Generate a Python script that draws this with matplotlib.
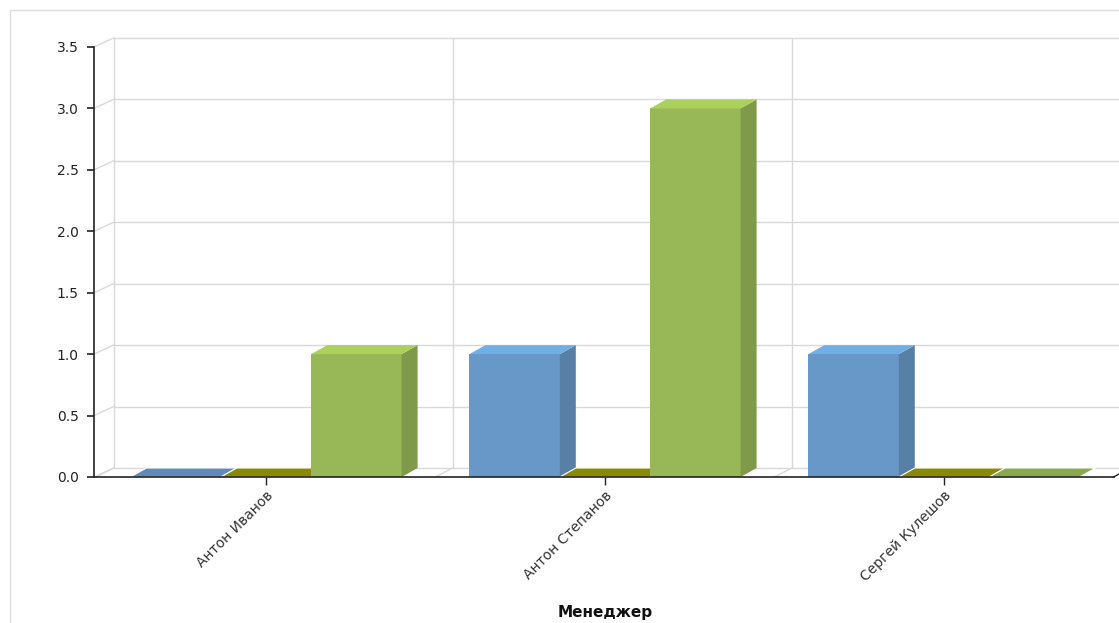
import matplotlib.pyplot as plt
from matplotlib.patches import Polygon, Rectangle

managers = ['Антон Иванов', 'Антон Степанов', 'Сергей Кулешов']
series_a = [0, 1, 1]
series_b = [0, 0, 0]
series_c = [1, 3, 0]
y_ticks = [0.0, 0.5, 1.0, 1.5, 2.0, 2.5, 3.0, 3.5]

W, H = 1119, 623
DX, DY = 17 / 339, 9 / 122.86      # back-wall offset (data units)
BDX, BDY = 16 / 339, 9 / 122.86    # bar depth
GRID = '#d9d9d9'

# front, top, side, flat-top colours per series
palette = [
    ('#6798c8', '#70aee6', '#587fa6', '#5f8bbb'),
    ('#8b8b00', '#8b8b00', '#707000', '#8a8a00'),
    ('#98b858', '#abd05c', '#7f9a48', '#89a94c'),
]


def draw_bar(ax, left, width, value, colors):
    front, top, side, flat = colors
    if value > 0:
        ax.add_patch(Rectangle((left, 0), width, value, facecolor=front,
                               edgecolor='none', clip_on=False, zorder=3))
        ax.add_patch(Polygon([(left + width, 0), (left + width + BDX, BDY),
                              (left + width + BDX, value + BDY), (left + width, value)],
                             facecolor=side, edgecolor='none', clip_on=False, zorder=3))
        ax.add_patch(Polygon([(left, value), (left + width, value),
                              (left + width + BDX, value + BDY), (left + BDX, value + BDY)],
                             facecolor=top, edgecolor='none', clip_on=False, zorder=3))
    else:
        ax.add_patch(Polygon([(left, 0), (left + width, 0),
                              (left + width + BDX, BDY), (left + BDX, BDY)],
                             facecolor=flat, edgecolor='white', linewidth=0.8,
                             clip_on=False, zorder=3))


fig = plt.figure(figsize=(W / 100, H / 100), dpi=100)
fig.patches.append(Rectangle((10 / W, -0.1), 1.2, 1.1 - 10 / H, transform=fig.transFigure,
                             facecolor='none', edgecolor='#dddddd', linewidth=1))

ax = fig.add_axes([94 / W, (H - 477) / H, (W - 94) / W, 430 / H])
x_min, x_max = (94 - 266) / 339, (W - 266) / 339
ax.set_xlim(x_min, x_max)
ax.set_ylim(0, 3.5)

# back wall horizontal grid + side diagonals
for v in y_ticks:
    ax.plot([-0.5 + DX, x_max], [v + DY, v + DY], color=GRID, lw=1, clip_on=False, zorder=1)
    ax.plot([x_min, -0.5 + DX], [v, v + DY], color=GRID, lw=1, clip_on=False, zorder=1)

# back wall vertical grid + floor diagonals
for k in range(len(managers) + 1):
    xb = -0.5 + k
    if xb + DX < x_max:
        ax.plot([xb + DX, xb + DX], [DY, 3.5 + DY], color=GRID, lw=1, clip_on=False, zorder=1)
    ax.plot([xb, xb + DX], [0, DY], color=GRID if k < len(managers) else '#222222',
            lw=1, clip_on=False, zorder=1)

bar_w = 0.8 / 3
for i in range(len(managers)):
    for j, vals in enumerate([series_a, series_b, series_c]):
        draw_bar(ax, i - 0.4 + j * bar_w, bar_w, vals[i], palette[j])

# front x axis line
ax.plot([x_min, 2.5], [0, 0], color='#222222', lw=1.2, clip_on=False, zorder=4)

for s in ['top', 'right', 'bottom']:
    ax.spines[s].set_visible(False)
ax.spines['left'].set_color('#222222')
ax.spines['left'].set_linewidth(1.2)

ax.set_yticks(y_ticks)
ax.set_yticklabels([f'{v:.1f}' for v in y_ticks], fontsize=10, color='#222222')
ax.set_xticks(range(len(managers)))
ax.set_xticklabels(managers, rotation=45, ha='right', va='top', rotation_mode='anchor',
                   fontsize=10, color='#333333')
ax.tick_params(axis='y', length=5, width=1.2, color='#222222', pad=6)
ax.tick_params(axis='x', length=6, width=1, color='#222222', pad=2)

fig.text(605 / W, 1 - 613 / H, 'Менеджер', fontsize=11, fontweight='bold',
         ha='center', va='center', color='#111111')

fig.savefig('out.png', dpi=100)
